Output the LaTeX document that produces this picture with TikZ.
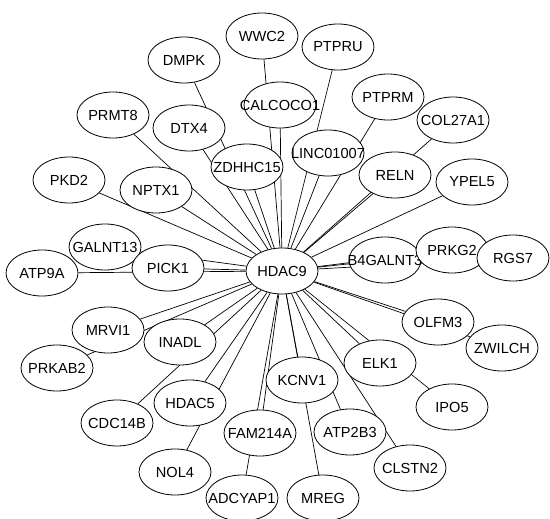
\documentclass[tikz,border=0pt]{standalone}
\usepackage{fontspec}
\setmainfont{Liberation Sans}
\usepackage{tikz}
\usetikzlibrary{shapes.geometric, backgrounds}

\begin{document}
\begin{tikzpicture}[x=1pt, y=-1pt,
    gene/.style={ellipse, draw, fill=white, line width=0.8pt, inner sep=0pt,
        minimum width=72pt, minimum height=46pt, font=\fontsize{14.6}{15}\selectfont},
    link/.style={line width=0.7pt}]
        \useasboundingbox (0,0) rectangle (550,519);

        \node[gene] (HDAC9) at (282,271) {\makebox[0pt]{HDAC9}};
        \node[gene] (WWC2) at (262,36) {\makebox[0pt]{WWC2}};
        \node[gene] (DMPK) at (184,60) {\makebox[0pt]{DMPK}};
        \node[gene] (PTPRU) at (338,47) {\makebox[0pt]{PTPRU}};
        \node[gene] (CALCOCO1) at (280,105) {\makebox[0pt]{CALCOCO1}};
        \node[gene] (PRMT8) at (113,115) {\makebox[0pt]{PRMT8}};
        \node[gene] (DTX4) at (189,128) {\makebox[0pt]{DTX4}};
        \node[gene] (PTPRM) at (388,97) {\makebox[0pt]{PTPRM}};
        \node[gene] (COL27A1) at (453,120) {\makebox[0pt]{COL27A1}};
        \node[gene] (LINC01007) at (328,153) {\makebox[0pt]{LINC01007}};
        \node[gene] (ZDHHC15) at (247,167) {\makebox[0pt]{ZDHHC15}};
        \node[gene] (RELN) at (395,175) {\makebox[0pt]{RELN}};
        \node[gene] (YPEL5) at (472,182) {\makebox[0pt]{YPEL5}};
        \node[gene] (PKD2) at (69,180) {\makebox[0pt]{PKD2}};
        \node[gene] (NPTX1) at (156,190) {\makebox[0pt]{NPTX1}};
        \node[gene] (GALNT13) at (105,247) {\makebox[0pt]{GALNT13}};
        \node[gene] (ATP9A) at (42,273) {\makebox[0pt]{ATP9A}};
        \node[gene] (PICK1) at (168,268) {\makebox[0pt]{PICK1}};
        \node[gene] (B4GALNT3) at (385,260) {\makebox[0pt]{B4GALNT3}};
        \node[gene] (PRKG2) at (452,250) {\makebox[0pt]{PRKG2}};
        \node[gene] (RGS7) at (513,258) {\makebox[0pt]{RGS7}};
        \node[gene] (OLFM3) at (438,322) {\makebox[0pt]{OLFM3}};
        \node[gene] (ZWILCH) at (502,348) {\makebox[0pt]{ZWILCH}};
        \node[gene] (MRVI1) at (108,330) {\makebox[0pt]{MRVI1}};
        \node[gene] (INADL) at (180,342) {\makebox[0pt]{INADL}};
        \node[gene] (PRKAB2) at (57,368) {\makebox[0pt]{PRKAB2}};
        \node[gene] (ELK1) at (380,363) {\makebox[0pt]{ELK1}};
        \node[gene] (KCNV1) at (302,380) {\makebox[0pt]{KCNV1}};
        \node[gene] (HDAC5) at (190,403) {\makebox[0pt]{HDAC5}};
        \node[gene] (IPO5) at (452,407) {\makebox[0pt]{IPO5}};
        \node[gene] (CDC14B) at (117,423) {\makebox[0pt]{CDC14B}};
        \node[gene] (FAM214A) at (260,433) {\makebox[0pt]{FAM214A}};
        \node[gene] (ATP2B3) at (350,432) {\makebox[0pt]{ATP2B3}};
        \node[gene] (CLSTN2) at (410,468) {\makebox[0pt]{CLSTN2}};
        \node[gene] (NOL4) at (175,472) {\makebox[0pt]{NOL4}};
        \node[gene] (ADCYAP1) at (242,498) {\makebox[0pt]{ADCYAP1}};
        \node[gene] (MREG) at (323,498) {\makebox[0pt]{MREG}};

        \begin{scope}[on background layer]
            \foreach \g in {WWC2, DMPK, PTPRU, CALCOCO1, PRMT8, DTX4, PTPRM, COL27A1,
                LINC01007, ZDHHC15, RELN, YPEL5, PKD2, NPTX1, GALNT13, ATP9A, PICK1,
                B4GALNT3, PRKG2, RGS7, OLFM3, ZWILCH, MRVI1, INADL, PRKAB2, ELK1,
                KCNV1, HDAC5, IPO5, CDC14B, FAM214A, ATP2B3, CLSTN2, NOL4, ADCYAP1, MREG}
                \draw[link] (HDAC9) -- (\g);
        \end{scope}
    \end{tikzpicture}
\end{document}
